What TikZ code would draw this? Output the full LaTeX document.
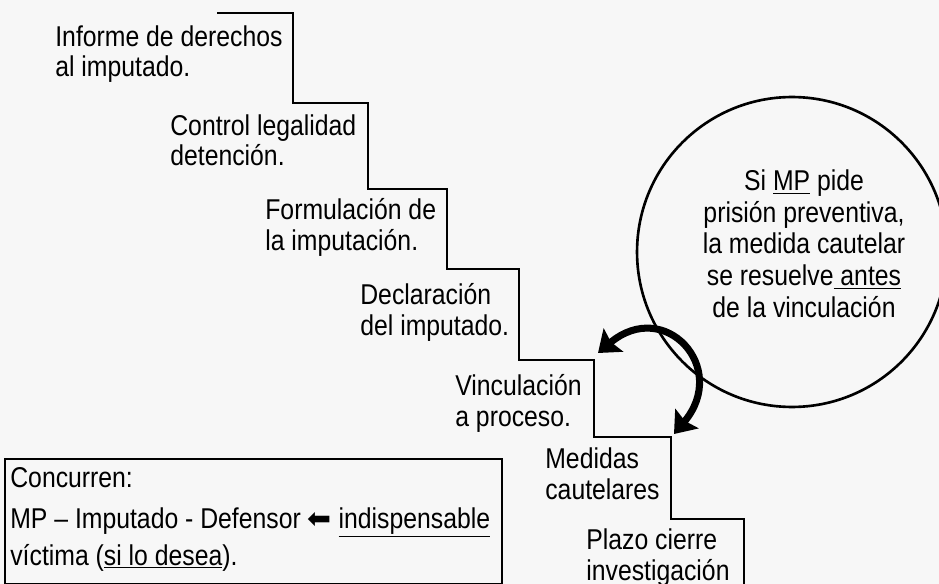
\documentclass[tikz,border=0pt]{standalone}
\usepackage{fontspec}
\setmainfont[FakeStretch=0.865]{Liberation Sans}
\newfontfamily\symbolfont{DejaVu Sans}
\usetikzlibrary{arrows.meta, positioning}

\begin{document}
\begin{tikzpicture}[
    x=0.02cm, y=0.02cm,
    stage/.style={anchor=base west, align=left, inner sep=0pt, font=\fontsize{16.3pt}{17.6pt}\selectfont},
    stairs/.style={draw=black, line width=1.5pt, line join=miter},
    condition/.style={circle, draw=black, line width=1.5pt, minimum size=6.2cm, inner sep=0pt},
    condtext/.style={anchor=base, align=center, inner sep=0pt, font=\fontsize{16.3pt}{18pt}\selectfont},
    panel/.style={rectangle, draw=black, line width=1.2pt, anchor=north west, minimum width=9.94cm, minimum height=2.5cm, inner sep=0pt},
    paneltext/.style={anchor=base west, align=left, inner sep=0pt, font=\fontsize{16.3pt}{21pt}\selectfont},
    swap/.style={{Stealth[length=0.4cm, width=0.6cm, inset=0.06cm]}-{Stealth[length=0.4cm, width=0.6cm, inset=0.06cm]}, line width=4pt}
]

% Background
\path[use as bounding box, fill=black!3] (0,0) rectangle (939,-584);

% Staircase
\draw[stairs] (217,-13) -| (293,-103) -| (368,-189) -| (447,-269) -| (519,-360) -| (594,-437) -| (671,-519) -| (744,-590);

% Stages (placed at the baseline of their last line)
\node[stage] (derechos) at (55,-77) {Informe de derechos\\al imputado.};
\node[stage] (control) at (170,-166) {Control legalidad\\detención.};
\node[stage] (formula) at (265,-250) {Formulación de\\la imputación.};
\node[stage] (declara) at (360,-335) {Declaración\\del imputado.};
\node[stage] (vincula) at (455,-426) {Vinculación\\a proceso.};
\node[stage] (medidas) at (545,-499) {Medidas\\cautelares};
\node[stage] (plazo) at (586,-580) {Plazo cierre\\investigación};

% Condition
\node[condition] (cond) at (792,-252) {};
\node[condtext] (condlabel) at (804,-317) {Si \underline{MP} pide\\prisión preventiva,\\la medida cautelar\\se resuelve\underline{ antes}\\de la vinculación};

% Swap arrow
\coordinate (vtip) at (598,-353);
\coordinate (mtip) at (674,-434);
\draw[swap] (vtip) to[out=40, in=50, looseness=2] (mtip);

% Participants
\node[panel] (box) at (4,-458) {};
\node[paneltext] (concurren) at (10,-487) {Concurren:};
\node[paneltext] (partes) at (10,-565) {MP – Imputado - Defensor {\symbolfont ⬅} \underline{indispensable}\\víctima (\underline{si lo desea}).};

\end{tikzpicture}
\end{document}
